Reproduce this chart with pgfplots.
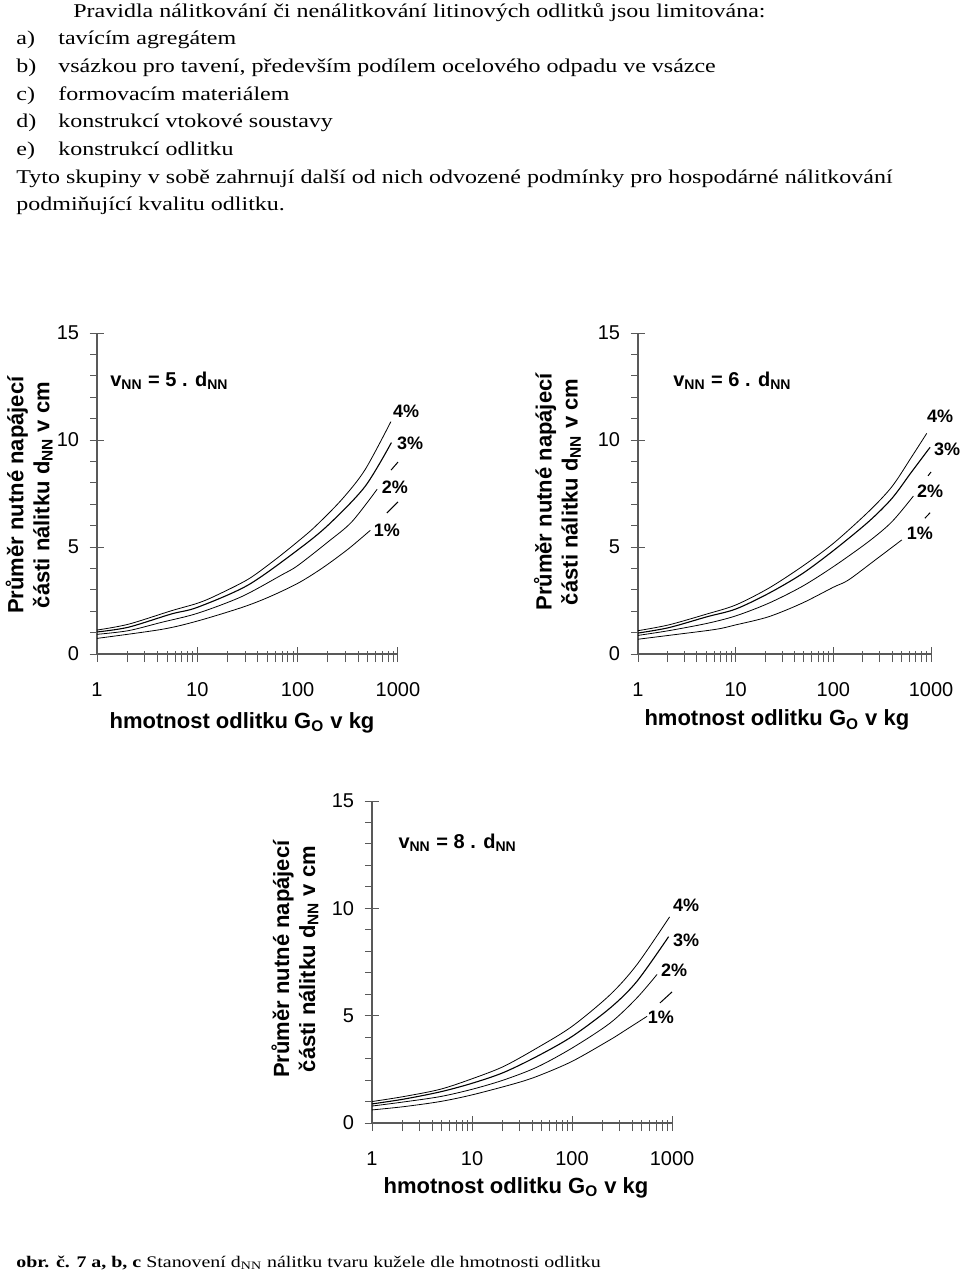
\documentclass[border=0pt]{standalone}
\usepackage{fontspec}
\setmainfont{Liberation Serif}
\setsansfont{Liberation Sans}
\newfontfamily\bodyfont[FakeStretch=1.23]{Liberation Serif}
\usepackage{pgfplots}
\pgfplotsset{compat=1.18}
\pgfkeys{/pgf/number format/assume math mode=true}

\pgfplotsset{
  every axis/.append style={
    scale only axis, xmode=log, xmin=1, xmax=1000, ymin=0, ymax=15,
    axis lines*=left, clip=false,
    axis line style={black!65, line width=0.6pt},
    xtick={1,10,100,1000}, xticklabels={1,10,100,1000},
    ytick={0,5,10,15},
    tick align=center, major tick length=7.5pt,
    tick style={black!65, line width=0.5pt},
    extra x ticks={2,3,4,5,6,7,8,9,20,30,40,50,60,70,80,90,200,300,400,500,600,700,800,900},
    extra x tick labels={},
    extra x tick style={tick align=outside, major tick length=4pt},
    extra y ticks={1,2,3,4,6,7,8,9,11,12,13,14},
    extra y tick labels={},
    extra y tick style={tick align=outside, major tick length=3.5pt},
    tick label style={font=\sffamily\fontsize{10}{12}\selectfont},
    xticklabel style={anchor=center, yshift=-14pt},
    yticklabel style={anchor=east, inner sep=0pt, xshift=-5pt},
    xlabel={hmotnost odlitku G\textsubscript{O} v kg},
    ylabel={Průměr nutné napájecí\\části nálitku d\textsubscript{NN} v cm},
    xlabel style={font=\sffamily\bfseries\fontsize{11}{13}\selectfont, anchor=center},
    ylabel style={font=\sffamily\bfseries\fontsize{11}{13}\selectfont, align=center, anchor=center},
    cycle list={{black, line width=0.55pt, no markers}},
  },
  every axis plot/.append style={smooth, tension=0.5},
}
\tikzset{
  pct/.style={font=\sffamily\bfseries\fontsize{9}{11}\selectfont, anchor=center, inner sep=0pt},
  vnn/.style={font=\sffamily\bfseries\fontsize{10}{12}\selectfont, anchor=base west, inner sep=0pt},
  lead/.style={black, line width=0.5pt},
}

\begin{document}
\begin{tikzpicture}
\path[use as bounding box] (0,0) rectangle (480pt,-637.5pt);

% text above the charts
\begin{scope}[every node/.style={anchor=base west, inner sep=0pt, font=\bodyfont\fontsize{9.75}{12}\selectfont}]
\node at (36.5pt,-8.5pt) {Pravidla nálitkování či nenálitkování litinových odlitků jsou limitována:};
\node at (8pt,-22pt) {a)};  \node at (29pt,-22pt) {tavícím agregátem};
\node at (8pt,-36pt) {b)};  \node at (29pt,-36pt) {vsázkou pro tavení, především podílem ocelového odpadu ve vsázce};
\node at (8pt,-50pt) {c)};  \node at (29pt,-50pt) {formovacím materiálem};
\node at (8pt,-63.5pt) {d)}; \node at (29pt,-63.5pt) {konstrukcí vtokové soustavy};
\node at (8pt,-77.5pt) {e)}; \node at (29pt,-77.5pt) {konstrukcí odlitku};
\node at (8pt,-91.5pt) {Tyto skupiny v sobě zahrnují další od nich odvozené podmínky pro hospodárné nálitkování};
\node at (8pt,-105pt) {podmiňující kvalitu odlitku.};
\node[font=\bodyfont\fontsize{8.1}{10}\selectfont] at (8pt,-633.5pt) {\textbf{obr. č. 7 a, b, c} Stanovení d\textsubscript{NN} nálitku tvaru kužele dle hmotnosti odlitku};
\end{scope}

% a) v = 5 d
\begin{axis}[at={(48.5pt,-327pt)}, anchor=south west, width=150.5pt, height=160.5pt,
  ylabel style={at={(rel axis cs:-0.225,0.495)}},
  xlabel style={at={(rel axis cs:0.482,-0.215)}}]
\addplot coordinates {(1,1.12) (2.05,1.39) (5.5,2.02) (10,2.37) (15,2.71) (32,3.49) (59,4.39) (100,5.25) (149,5.95) (273,7.2) (468,8.6) (850,10.86)};
\addplot coordinates {(1,1.03) (2.05,1.25) (5.5,1.87) (10,2.18) (32,3.22) (100,4.86) (202,6.03) (468,7.82) (860,9.88)};
\addplot coordinates {(1,0.92) (2.05,1.09) (4.4,1.48) (10,1.9) (27.6,2.68) (69,3.69) (100,4.13) (202,5.25) (347,6.18) (620,7.70)};
\addplot coordinates {(1,0.73) (4.4,1.15) (10,1.54) (27.6,2.17) (51,2.65) (100,3.30) (174,4.0) (316,4.89) (530,5.78)};
\node[vnn] at (rel axis cs:0.043,0.832) {v\textsubscript{NN} = 5 . d\textsubscript{NN}};
\node[pct] at (rel axis cs:1.027,0.757) {4\%};
\node[pct] at (rel axis cs:1.040,0.657) {3\%};
\node[pct] at (rel axis cs:0.990,0.520) {2\%};
\node[pct] at (rel axis cs:0.963,0.386) {1\%};
\draw[lead] (rel axis cs:0.977,0.573) -- (rel axis cs:1.0,0.598);
\draw[lead] (rel axis cs:0.963,0.439) -- (rel axis cs:1.0,0.474);
\end{axis}

% b) v = 6 d
\begin{axis}[at={(319pt,-327pt)}, anchor=south west, width=146.5pt, height=160.5pt,
  ylabel style={at={(rel axis cs:-0.275,0.505)}},
  xlabel style={at={(rel axis cs:0.474,-0.206)}}]
\addplot coordinates {(1,1.09) (2.06,1.36) (5.08,1.87) (10,2.29) (21.7,3.07) (47.6,4.08) (100,5.17) (229,6.65) (398,7.82) (635,9.22) (904,10.31)};
\addplot coordinates {(1,0.98) (2.06,1.23) (5.08,1.74) (10,2.10) (21.7,2.83) (47.6,3.74) (100,4.83) (229,6.18) (398,7.27) (635,8.52) (979,9.66)};
\addplot coordinates {(1,0.87) (2.06,1.09) (5.08,1.43) (10,1.78) (21.7,2.37) (47.6,3.15) (100,4.08) (229,5.25) (398,6.18) (660,7.38)};
\addplot coordinates {(1,0.69) (2.06,0.87) (6.2,1.15) (10,1.36) (21.7,1.74) (47.6,2.37) (100,3.12) (143,3.46) (268,4.39) (502,5.33)};
\node[vnn] at (rel axis cs:0.119,0.832) {v\textsubscript{NN} = 6 . d\textsubscript{NN}};
\node[pct] at (rel axis cs:1.031,0.741) {4\%};
\node[pct] at (rel axis cs:1.055,0.639) {3\%};
\node[pct] at (rel axis cs:0.997,0.508) {2\%};
\node[pct] at (rel axis cs:0.962,0.377) {1\%};
\draw[lead] (rel axis cs:0.990,0.555) -- (rel axis cs:1.0,0.567);
\draw[lead] (rel axis cs:0.979,0.423) -- (rel axis cs:0.997,0.440);
\end{axis}

% c) v = 8 d
\begin{axis}[at={(186pt,-561.5pt)}, anchor=south west, width=150pt, height=161pt,
  ylabel style={at={(rel axis cs:-0.257,0.509)}},
  xlabel style={at={(rel axis cs:0.48,-0.202)}}]
\addplot coordinates {(1,1.0) (2.06,1.23) (4.8,1.57) (10,2.06) (20.6,2.63) (44.5,3.49) (100,4.50) (241,5.98) (446,7.38) (946,9.6)};
\addplot coordinates {(1,0.89) (2.06,1.11) (4.8,1.45) (10,1.85) (20.6,2.35) (44.5,3.10) (100,4.03) (241,5.36) (446,6.60) (925,8.68)};
\addplot coordinates {(1,0.79) (2.06,0.98) (4.8,1.23) (10,1.57) (20.6,2.0) (44.5,2.6) (100,3.49) (241,4.66) (446,5.83) (708,6.92)};
\addplot coordinates {(1,0.61) (2.06,0.76) (4.8,1.0) (10,1.31) (26,1.82) (44.5,2.17) (100,2.87) (241,3.88) (328,4.27) (563,4.97)};
\node[vnn] at (rel axis cs:0.087,0.854) {v\textsubscript{NN} = 8 . d\textsubscript{NN}};
\node[pct] at (rel axis cs:1.047,0.677) {4\%};
\node[pct] at (rel axis cs:1.047,0.568) {3\%};
\node[pct] at (rel axis cs:1.007,0.475) {2\%};
\node[pct] at (rel axis cs:0.963,0.329) {1\%};
\draw[lead] (rel axis cs:0.96,0.373) -- (rel axis cs:1.0,0.407);
\end{axis}
\end{tikzpicture}
\end{document}
